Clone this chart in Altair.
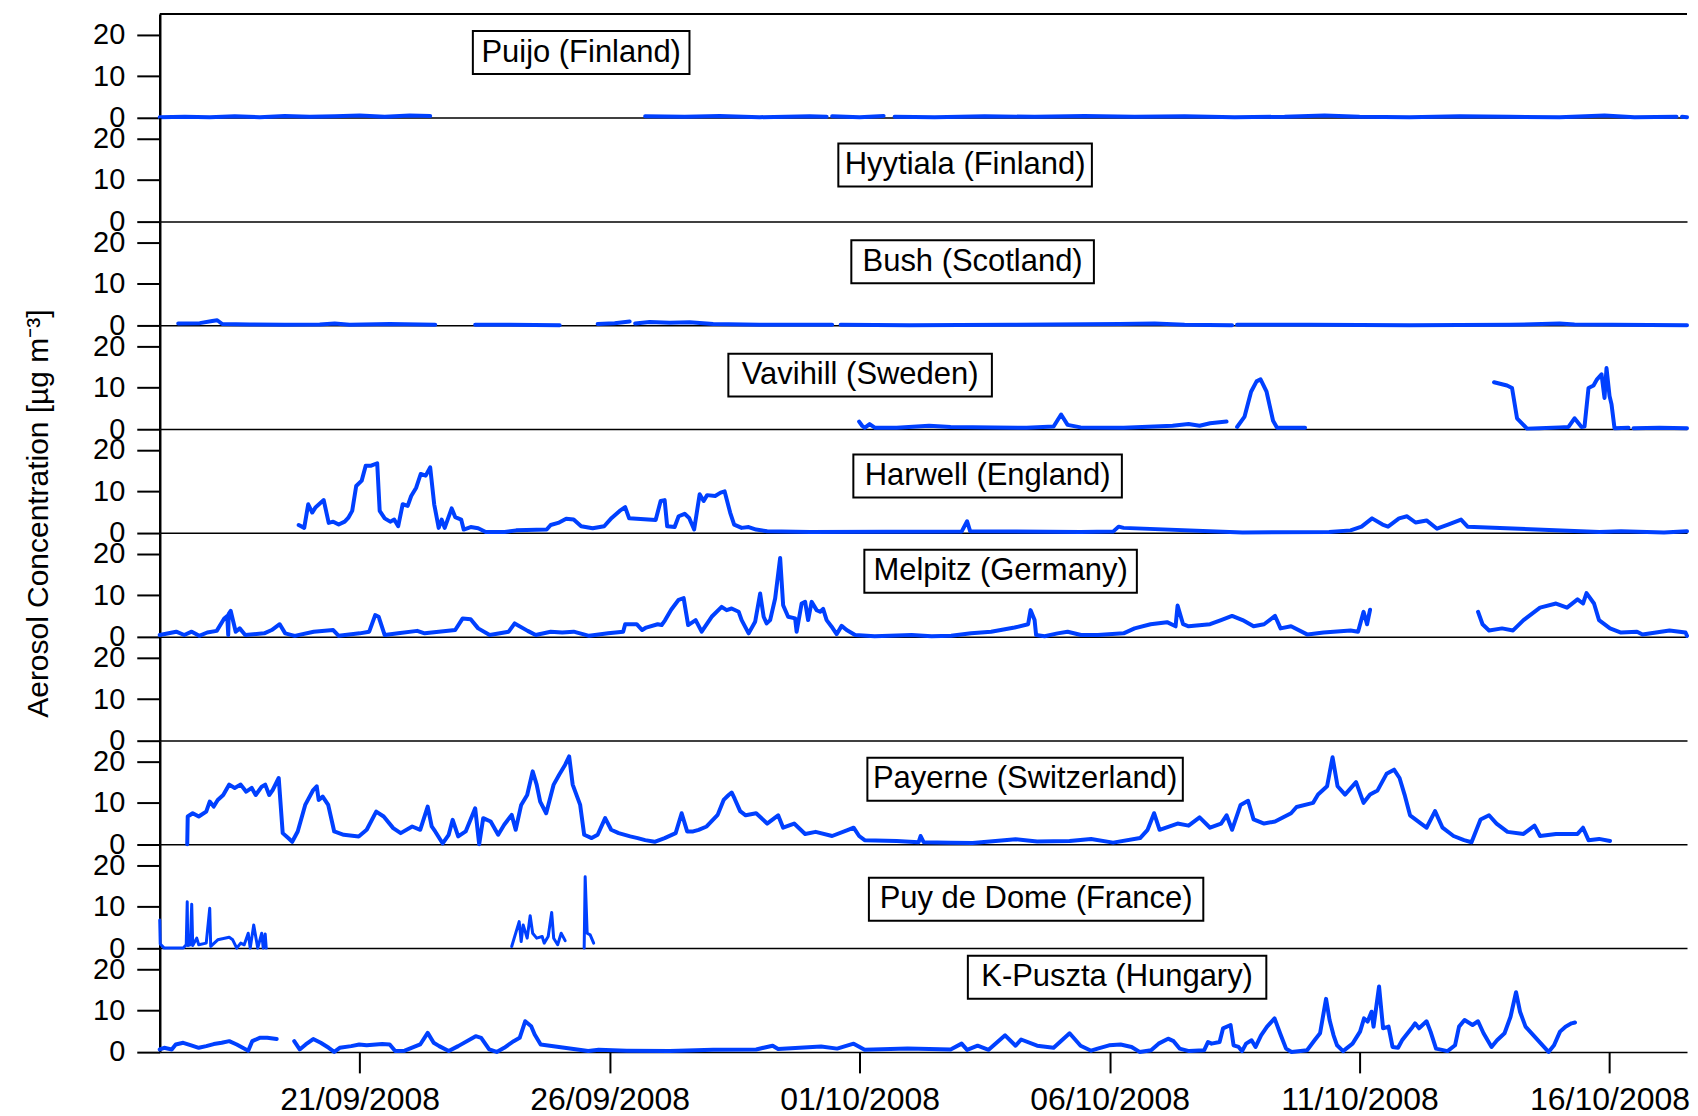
import altair as alt
import pandas as pd
from datetime import datetime, timezone, timedelta

# ---------------- data (day offset from 17/09/2008 00:00 UTC, concentration) ----------------
# None marks a gap in the record
puijo = [(0.0, 0.1), (0.5, 0.2), (1.0, 0.1), (1.5, 0.3), (2.0, 0.1), (2.5, 0.4), (3.0, 0.2), (3.5, 0.3),
         (4.0, 0.5), (4.5, 0.2), (5.0, 0.5), (5.41, 0.4), None,
         (9.71, 0.3), (10.5, 0.2), (11.2, 0.4), (12.0, 0.1), (13.0, 0.3), (13.34, 0.2), None,
         (13.45, 0.3), (14.0, 0.1), (14.48, 0.4), None,
         (14.70, 0.2), (15.5, 0.1), (16.5, 0.3), (17.5, 0.2), (18.5, 0.4), (19.5, 0.2), (20.5, 0.3),
         (21.5, 0.1), (22.5, 0.2), (23.3, 0.5), (24.0, 0.2), (25.0, 0.1), (26.0, 0.3), (27.0, 0.2),
         (28.0, 0.1), (28.9, 0.5), (29.5, 0.1), (30.34, 0.2), None, (30.45, 0.2), (30.55, 0.1)]

hyytiala = []

bush = [(0.37, 0.4), (0.8, 0.5), (1.05, 1.0), (1.15, 1.2), (1.25, 0.3), (1.8, 0.2), (2.5, 0.1), (3.2, 0.2),
        (3.5, 0.4), (3.8, 0.1), (4.6, 0.3), (5.51, 0.1), None,
        (6.31, 0.1), (7.0, 0.1), (8.0, 0.0), None,
        (8.76, 0.3), (9.1, 0.5), (9.4, 0.9), None,
        (9.51, 0.4), (9.8, 0.8), (10.2, 0.6), (10.6, 0.7), (11.07, 0.3), (12.0, 0.1), (13.45, 0.1), None,
        (13.62, 0.1), (15.0, 0.0), (17.0, 0.1), (19.2, 0.3), (19.9, 0.4), (20.5, 0.1), (21.45, 0.0), None,
        (21.55, 0.1), (23.0, 0.1), (25.0, 0.0), (27.0, 0.1), (28.0, 0.4), (28.3, 0.2), (30.55, 0.0)]

vavihill = [(13.99, 1.8), (14.05, 0.8), (14.10, 0.3), (14.20, 1.2), (14.31, 0.3), (14.74, 0.3), (15.39, 0.8),
            (15.82, 0.5), (16.69, 0.4), (17.34, 0.3), (17.88, 0.6), (18.03, 3.5), (18.16, 1.0), (18.42, 0.4),
            (19.28, 0.3), (20.26, 0.8), (20.58, 1.2), (20.80, 0.8), (21.01, 1.4), (21.34, 1.8), None,
            (21.55, 0.5), (21.70, 3.0), (21.83, 9.0), (21.94, 11.5), (22.02, 12.0), (22.14, 9.0), (22.27, 2.0),
            (22.35, 0.3), (22.91, 0.3), None,
            (26.69, 11.3), (26.85, 10.8), (26.95, 10.5), (27.05, 9.9), (27.15, 2.6), (27.35, 0.1), (27.6, 0.2),
            (28.0, 0.4), (28.18, 0.5), (28.30, 2.6), (28.44, 0.5), (28.50, 0.6), (28.58, 9.9), (28.68, 10.5),
            (28.75, 12.0), (28.84, 13.2), (28.90, 7.5), (28.94, 14.7), (29.0, 8.0), (29.04, 6.0), (29.10, 0.2),
            (29.38, 0.3), None, (29.48, 0.2), (30.0, 0.3), (30.55, 0.2)]

harwell = [(2.78, 1.9), (2.89, 1.2), (2.97, 6.9), (3.05, 4.9), (3.12, 6.2), (3.28, 7.9), (3.38, 2.4), (3.47, 2.7),
           (3.58, 2.0), (3.70, 2.7), (3.77, 3.6), (3.85, 5.3), (3.93, 11.3), (4.04, 12.6), (4.12, 16.2),
           (4.23, 16.2), (4.35, 16.8), (4.40, 5.3), (4.50, 3.5), (4.61, 2.7), (4.69, 3.2), (4.77, 1.6),
           (4.86, 6.9), (4.96, 6.5), (5.03, 8.9), (5.13, 10.9), (5.22, 14.2), (5.32, 13.8), (5.41, 15.8),
           (5.49, 6.9), (5.58, 1.2), (5.64, 3.2), (5.70, 1.2), (5.84, 5.9), (5.91, 3.8), (6.03, 3.2),
           (6.08, 0.8), (6.22, 1.4), (6.37, 1.1), (6.52, 0.2), (6.90, 0.2), (7.13, 0.6), (7.74, 0.8),
           (7.82, 1.9), (7.97, 2.4), (8.13, 3.4), (8.28, 3.2), (8.43, 1.6), (8.66, 1.1), (8.89, 1.6),
           (9.04, 3.6), (9.20, 5.3), (9.31, 6.2), (9.39, 3.5), (9.92, 3.1), (10.02, 7.7), (10.10, 7.9),
           (10.15, 1.6), (10.30, 1.4), (10.38, 4.0), (10.50, 4.6), (10.59, 3.6), (10.69, 0.8), (10.80, 9.3),
           (10.88, 7.7), (10.95, 9.1), (11.11, 8.9), (11.22, 9.7), (11.30, 10.0), (11.41, 4.9), (11.49, 2.0),
           (11.64, 1.2), (11.78, 1.4), (11.93, 0.8), (12.15, 0.4), (13.01, 0.2), (16.04, 0.3), (16.15, 2.8),
           (16.21, 0.4), (18.42, 0.2), (19.07, 0.3), (19.18, 1.5), (19.28, 1.2), (21.66, 0.1), (23.39, 0.2),
           (23.82, 0.6), (24.04, 1.5), (24.25, 3.5), (24.46, 2.0), (24.57, 1.5), (24.79, 3.5), (24.95, 4.0),
           (25.12, 2.5), (25.34, 3.0), (25.55, 1.0), (25.77, 2.0), (26.03, 3.2), (26.16, 1.5), (28.80, 0.2),
           (29.23, 0.4), (30.09, 0.1), (30.55, 0.4)]

melpitz = [(0.0, 0.4), (0.33, 1.2), (0.49, 0.4), (0.64, 1.2), (0.79, 0.2), (0.95, 1.0), (1.14, 1.4), (1.29, 4.4),
           (1.35, 5.0), (1.37, 0.4), (1.38, 5.5), (1.42, 6.2), (1.52, 1.2), (1.60, 2.0), (1.71, 0.4), (2.09, 0.8),
           (2.24, 1.6), (2.40, 3.0), (2.51, 0.8), (2.70, 0.2), (3.08, 1.2), (3.47, 1.6), (3.58, 0.2), (4.00, 0.8),
           (4.19, 1.2), (4.31, 5.2), (4.38, 4.8), (4.50, 0.4), (4.77, 0.8), (5.15, 1.4), (5.30, 0.8), (5.91, 1.6),
           (6.06, 4.4), (6.22, 4.2), (6.37, 2.0), (6.60, 0.4), (6.98, 1.2), (7.10, 3.2), (7.36, 1.4), (7.52, 0.4),
           (7.82, 1.2), (8.05, 1.0), (8.28, 1.2), (8.59, 0.2), (8.97, 0.8), (9.27, 1.2), (9.31, 3.0), (9.54, 3.0),
           (9.65, 1.6), (9.73, 2.2), (9.96, 3.0), (10.04, 2.8), (10.11, 4.0), (10.23, 6.5), (10.38, 8.9),
           (10.48, 9.3), (10.57, 2.8), (10.72, 4.0), (10.84, 1.2), (11.04, 4.8), (11.24, 7.2), (11.34, 6.4),
           (11.44, 6.8), (11.58, 6.0), (11.64, 4.0), (11.78, 0.8), (11.91, 3.6), (12.01, 10.4), (12.08, 4.8),
           (12.14, 3.2), (12.21, 4.0), (12.31, 9.2), (12.41, 19.0), (12.47, 7.6), (12.57, 4.8), (12.71, 4.4),
           (12.74, 1.2), (12.84, 8.0), (12.91, 8.4), (12.97, 4.0), (13.04, 8.4), (13.14, 6.4), (13.21, 6.0),
           (13.27, 6.7), (13.34, 4.0), (13.44, 2.4), (13.54, 0.6), (13.64, 2.6), (13.74, 1.6), (13.91, 0.4),
           (14.30, 0.1), (15.04, 0.4), (15.44, 0.1), (15.83, 0.2), (16.23, 0.8), (16.63, 1.2), (17.10, 2.2),
           (17.37, 3.0), (17.42, 6.4), (17.50, 4.0), (17.53, 0.4), (17.70, 0.1), (17.96, 0.8), (18.16, 1.2),
           (18.43, 0.4), (18.76, 0.4), (19.28, 0.8), (19.50, 2.0), (19.82, 3.0), (20.15, 3.5), (20.32, 2.5),
           (20.36, 7.5), (20.47, 3.0), (20.58, 2.5), (21.01, 3.0), (21.23, 4.0), (21.45, 5.0), (21.66, 4.0),
           (21.88, 2.5), (22.09, 3.0), (22.31, 5.0), (22.42, 2.0), (22.63, 2.5), (22.96, 0.5), (23.28, 1.0),
           (23.82, 1.5), (23.97, 1.2), (24.08, 6.0), (24.15, 3.0), (24.21, 6.5), None,
           (26.37, 6.0), (26.46, 3.0), (26.59, 1.5), (26.85, 2.0), (27.07, 1.5), (27.28, 4.0), (27.61, 7.0),
           (27.93, 8.0), (28.15, 7.0), (28.36, 9.0), (28.47, 8.0), (28.54, 10.5), (28.69, 8.0), (28.79, 4.0),
           (29.01, 2.0), (29.23, 1.0), (29.55, 1.2), (29.66, 0.5), (30.20, 1.5), (30.52, 1.0), (30.55, 0.2)]

blank = []

payerne = [(0.55, 0.0), (0.56, 6.7), (0.66, 7.5), (0.78, 6.7), (0.93, 7.9), (1.00, 10.3), (1.08, 9.1), (1.16, 10.7),
           (1.27, 11.9), (1.39, 14.4), (1.50, 13.6), (1.62, 14.4), (1.73, 12.7), (1.84, 13.6), (1.92, 11.9),
           (2.04, 13.9), (2.11, 14.4), (2.19, 11.9), (2.26, 13.1), (2.38, 16.0), (2.46, 2.7), (2.57, 1.5),
           (2.65, 0.6), (2.76, 3.1), (2.91, 9.5), (3.07, 13.1), (3.14, 14.0), (3.18, 10.7), (3.26, 11.5),
           (3.37, 9.5), (3.49, 3.1), (3.68, 2.3), (3.98, 1.9), (4.14, 3.5), (4.33, 7.9), (4.48, 6.7), (4.67, 3.9),
           (4.82, 2.7), (5.05, 4.3), (5.21, 3.5), (5.36, 9.1), (5.44, 4.3), (5.51, 3.1), (5.66, 0.2), (5.78, 2.3),
           (5.86, 5.9), (5.97, 1.9), (6.12, 3.1), (6.31, 8.7), (6.39, 0.0), (6.47, 6.3), (6.62, 5.5), (6.77, 2.3),
           (6.89, 4.7), (7.04, 7.1), (7.12, 3.5), (7.23, 9.5), (7.35, 11.9), (7.46, 17.6), (7.54, 14.4),
           (7.61, 10.3), (7.73, 7.5), (7.88, 14.4), (7.99, 16.8), (8.11, 19.2), (8.19, 21.2), (8.26, 14.4),
           (8.41, 9.5), (8.49, 2.3), (8.64, 1.5), (8.76, 2.3), (8.91, 6.3), (9.03, 3.5), (9.18, 2.7), (9.41, 1.9),
           (9.56, 1.5), (9.71, 1.0), (9.90, 0.6), (10.10, 1.5), (10.32, 2.7), (10.44, 7.5), (10.55, 3.1),
           (10.67, 3.1), (10.78, 3.5), (10.94, 4.3), (11.16, 7.1), (11.28, 10.7), (11.38, 11.9), (11.44, 12.5),
           (11.50, 11.0), (11.61, 8.0), (11.72, 7.0), (11.93, 7.5), (12.15, 5.0), (12.37, 7.0), (12.47, 4.0),
           (12.69, 5.0), (12.91, 2.5), (13.12, 3.0), (13.45, 2.0), (13.77, 3.5), (13.88, 4.0), (13.99, 2.0),
           (14.10, 1.0), (14.74, 0.8), (15.18, 0.5), (15.22, 2.0), (15.28, 0.5), (15.82, 0.4), (16.26, 0.3),
           (17.12, 1.2), (17.55, 0.7), (18.20, 0.8), (18.63, 1.3), (19.07, 0.4), (19.61, 1.5), (19.76, 3.5),
           (19.89, 7.5), (20.00, 3.5), (20.36, 5.0), (20.58, 4.5), (20.80, 6.5), (21.01, 4.0), (21.23, 5.0),
           (21.34, 7.0), (21.45, 3.5), (21.62, 9.5), (21.77, 10.5), (21.88, 6.0), (22.09, 5.0), (22.31, 5.5),
           (22.63, 7.5), (22.74, 9.0), (23.07, 10.0), (23.17, 12.0), (23.35, 14.0), (23.46, 21.0), (23.56, 14.0),
           (23.71, 12.0), (23.93, 15.0), (24.08, 10.0), (24.21, 12.0), (24.36, 13.0), (24.54, 17.0),
           (24.69, 18.0), (24.80, 16.0), (24.90, 12.0), (25.01, 7.0), (25.23, 5.0), (25.34, 4.0), (25.51, 8.0),
           (25.66, 4.0), (25.88, 2.0), (26.09, 1.0), (26.24, 0.5), (26.42, 6.0), (26.59, 7.0), (26.74, 5.0),
           (26.96, 3.0), (27.28, 2.5), (27.50, 4.5), (27.61, 2.0), (27.93, 2.5), (28.36, 2.5), (28.47, 4.0),
           (28.58, 1.0), (28.79, 1.3), (29.01, 0.8)]

puy_de_dome = [(0.0, 6.8), (0.01, 1.0), (0.09, 0.0), (0.47, 0.0), (0.53, 0.8), (0.55, 11.2), (0.56, 0.6),
               (0.61, 0.8), (0.64, 10.6), (0.66, 0.6), (0.74, 2.4), (0.78, 0.8), (0.93, 1.2), (1.00, 9.6),
               (1.02, 0.4), (1.16, 2.0), (1.39, 2.6), (1.46, 2.0), (1.54, 0.0), (1.62, 1.2), (1.69, 0.8),
               (1.77, 3.6), (1.81, 0.0), (1.88, 5.6), (1.96, 0.0), (2.04, 3.6), (2.07, 0.0), (2.11, 3.4),
               (2.13, 0.0), None,
               (7.04, 0.4), (7.19, 6.4), (7.23, 1.6), (7.27, 5.6), (7.35, 2.4), (7.41, 7.8), (7.46, 3.6),
               (7.54, 2.4), (7.65, 2.8), (7.69, 1.2), (7.77, 2.8), (7.84, 8.6), (7.88, 2.4), (7.96, 0.8),
               (8.03, 3.6), (8.11, 1.8), None,
               (8.49, 0.0), (8.51, 17.2), (8.55, 3.6), (8.61, 3.2), (8.68, 1.2)]

k_puszta = [(0.0, 0.6), (0.09, 1.0), (0.24, 0.6), (0.32, 1.8), (0.47, 2.2), (0.63, 1.6), (0.78, 1.0), (0.93, 1.4),
            (1.08, 1.9), (1.24, 2.2), (1.39, 2.6), (1.54, 1.8), (1.77, 0.3), (1.85, 2.6), (2.00, 3.4),
            (2.15, 3.4), (2.34, 3.1), None,
            (2.69, 2.6), (2.80, 0.6), (2.92, 1.8), (3.07, 3.1), (3.22, 2.2), (3.38, 1.0), (3.49, 0.0),
            (3.60, 1.0), (3.83, 1.4), (3.99, 1.8), (4.14, 1.6), (4.45, 1.9), (4.60, 1.8), (4.71, 0.2),
            (4.90, 0.3), (5.21, 1.8), (5.36, 4.6), (5.48, 2.2), (5.59, 1.4), (5.78, 0.2), (5.97, 1.4),
            (6.32, 3.8), (6.43, 3.4), (6.59, 0.6), (6.74, 0.0), (6.89, 1.0), (7.08, 2.6), (7.20, 3.4),
            (7.31, 7.4), (7.43, 6.2), (7.50, 4.2), (7.62, 1.8), (8.57, 0.2), (8.78, 0.5), (9.34, 0.3),
            (10.20, 0.2), (11.07, 0.5), (11.93, 0.6), (12.26, 1.5), (12.37, 0.7), (13.23, 1.3), (13.55, 0.8),
            (13.88, 2.0), (14.10, 0.5), (14.96, 0.8), (15.82, 0.6), (16.04, 2.0), (16.15, 0.5), (16.36, 1.5),
            (16.58, 0.5), (16.91, 4.0), (17.12, 1.5), (17.23, 3.0), (17.55, 1.5), (17.88, 1.0), (18.20, 4.5),
            (18.42, 1.5), (18.63, 0.3), (18.76, 0.8), (18.99, 1.6), (19.22, 1.8), (19.44, 1.2), (19.60, 0.0),
            (19.83, 0.4), (19.98, 2.0), (20.17, 3.2), (20.28, 2.6), (20.40, 0.8), (20.59, 0.2), (20.89, 0.4),
            (20.97, 2.4), (21.04, 2.0), (21.20, 2.4), (21.27, 5.7), (21.42, 6.5), (21.48, 1.6), (21.58, 1.2),
            (21.65, 0.2), (21.73, 2.0), (21.84, 2.8), (21.92, 1.2), (22.03, 4.0), (22.15, 6.1), (22.30, 8.1),
            (22.41, 4.5), (22.53, 0.8), (22.64, 0.0), (22.95, 0.4), (23.10, 2.8), (23.21, 4.5), (23.33, 12.8),
            (23.40, 7.7), (23.48, 4.0), (23.55, 1.6), (23.67, 0.2), (23.86, 2.0), (24.01, 4.9), (24.09, 8.1),
            (24.16, 7.3), (24.24, 9.7), (24.28, 6.1), (24.39, 15.8), (24.47, 5.7), (24.58, 6.1), (24.66, 1.2),
            (24.77, 1.0), (24.85, 2.8), (25.04, 5.7), (25.11, 6.9), (25.19, 5.7), (25.34, 7.4), (25.42, 4.9),
            (25.53, 0.8), (25.76, 0.2), (25.91, 1.6), (25.99, 6.1), (26.10, 7.7), (26.26, 6.5), (26.37, 7.4),
            (26.48, 4.5), (26.64, 1.2), (26.75, 2.8), (26.90, 4.5), (27.02, 8.5), (27.13, 14.4), (27.21, 9.7),
            (27.32, 6.1), (27.78, 0.0), (27.89, 1.6), (28.01, 4.9), (28.12, 6.1), (28.24, 6.9), (28.31, 7.1)]

panel_names = ["Puijo (Finland)", "Hyytiala (Finland)", "Bush (Scotland)", "Vavihill (Sweden)",
               "Harwell (England)", "Melpitz (Germany)", "", "Payerne (Switzerland)",
               "Puy de Dome (France)", "K-Puszta (Hungary)"]
panel_series = [puijo, hyytiala, bush, vavihill, harwell, melpitz, blank, payerne, puy_de_dome, k_puszta]

# label anchor (day offset, concentration) for the boxed site names
label_day = [8.43, 16.11, 16.26, 14.01, 16.56, 16.82, None, 17.31, 17.53, 19.15]
label_val = [15.7, 13.6, 15.3, 13.0, 13.7, 15.8, None, 15.7, 11.8, 18.0]
label_box_w = [217, 254, 243, 264, 269, 273, None, 316, 335, 299]

tick_labels = ["21/09/2008", "26/09/2008", "01/10/2008", "06/10/2008", "11/10/2008", "16/10/2008"]
y_ticks = [0, 10, 20]
Y_MAX = 25
END_DAY = 30.55
Y_TITLE = "Aerosol Concentration [µg m⁻³]"

# ---------------- build tables ----------------
START = datetime(2008, 9, 17, tzinfo=timezone.utc)


def ms(d):
    return (START + timedelta(days=d)).timestamp() * 1000.0


rows = []
for name, ser in zip(panel_names, panel_series):
    key = name if name else "blank"
    seg = 0
    for p in ser:
        if p is None:
            seg += 1
            continue
        rows.append({"site": key, "t": ms(p[0]), "v": p[1], "seg": f"{key}-{seg}"})
df = pd.DataFrame(rows, columns=["site", "t", "v", "seg"])

lab_rows = []
for name, d, v in zip(panel_names, label_day, label_val):
    if name:
        lab_rows.append({"site": name, "label": name, "t": ms(d), "v": v})
labels_df = pd.DataFrame(lab_rows)

tick_ms = [datetime.strptime(s, "%d/%m/%Y").replace(tzinfo=timezone.utc).timestamp() * 1000.0
           for s in tick_labels]

# ---------------- chart ----------------
FONT = "Liberation Sans"
BLUE = "#0040ff"
W, H = 1530, 103.8
xscale = alt.Scale(type="utc", domain=[ms(0), ms(END_DAY)], nice=False)
yscale = alt.Scale(domain=[0, Y_MAX], nice=False, zero=False)

panels = []
n = len(panel_names)
for i, name in enumerate(panel_names):
    key = name if name else "blank"
    last = i == n - 1
    if last:
        xaxis = alt.Axis(values=tick_ms, labelExpr="utcFormat(datum.value, '%d/%m/%Y')",
                         tickSize=21, tickWidth=2, tickColor="black", labelFontSize=32,
                         labelPadding=12, labelFont=FONT, labelColor="black",
                         domainWidth=1.5, domainColor="black", grid=False,
                         labelFlush=False, labelOverlap=False, title=None)
    else:
        xaxis = alt.Axis(labels=False, ticks=False, domainWidth=1.5, domainColor="black",
                         grid=False, title=None)
    ykw = dict(values=y_ticks, tickSize=23, tickWidth=2, tickColor="black", labelFontSize=29,
               labelFont=FONT, labelColor="black", labelPadding=12, domainWidth=2.5,
               domainColor="black", grid=False, labelOverlap=False, labelFlush=False)
    if i == 4:
        yaxis = alt.Axis(title=Y_TITLE, titleX=-121, titleY=84, titleFontSize=30, titleFont=FONT,
                         titleFontWeight="normal", titleColor="black", titleAngle=270,
                         titleAlign="center", titleBaseline="middle", **ykw)
    else:
        yaxis = alt.Axis(title=None, **ykw)

    xenc = alt.X("t:T", scale=xscale, axis=xaxis)
    yenc = alt.Y("v:Q", scale=yscale, axis=yaxis)

    line = alt.Chart(df).transform_filter(alt.datum.site == key).mark_line(
        color=BLUE, strokeWidth=4.0 if key != "Puy de Dome (France)" else 3.0,
        strokeJoin="round", strokeCap="round"
    ).encode(x=xenc, y=yenc, detail="seg:N")
    layers = [line]
    if name:
        lab = alt.Chart(labels_df).transform_filter(alt.datum.site == name)
        box = lab.mark_rect(width=label_box_w[i], height=43, fill="white", stroke="black",
                            strokeWidth=2).encode(x=xenc, y=yenc)
        txt = lab.mark_text(font=FONT, fontSize=31, color="black", align="center",
                            baseline="middle").encode(x=xenc, y=yenc, text="label:N")
        layers += [box, txt]
        if i == 0:
            top = lab.mark_rule(color="black", strokeWidth=2).encode(
                x=alt.value(0), x2=alt.value(W), y=alt.value(0))
            layers.append(top)
    panels.append(alt.layer(*layers).properties(width=W, height=H))

chart = alt.vconcat(*panels, spacing=0, bounds="flush").properties(
    padding={"left": 15, "top": 4, "right": 0, "bottom": 0}
).configure(font=FONT).configure_view(strokeWidth=0)

chart.save("out.html", embed_options={"renderer": "svg", "actions": False})
